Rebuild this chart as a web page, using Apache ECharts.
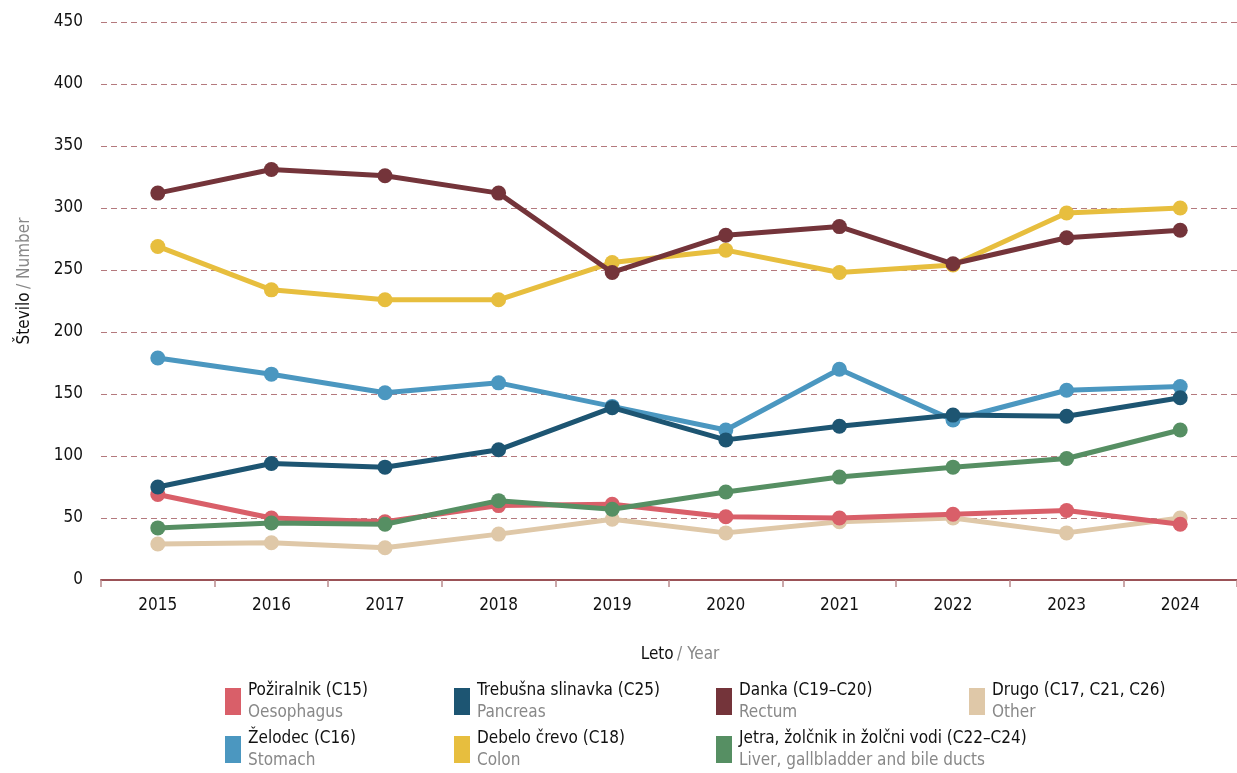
<!DOCTYPE html>
<html>
<head>
<meta charset="utf-8">
<script src="https://cdn.jsdelivr.net/npm/echarts@6/dist/echarts.min.js"></script>
<style>
  html, body { margin: 0; padding: 0; background: #fff; }
  #main { width: 1237px; height: 773px; }
</style>
</head>
<body>
<div id="main"></div>
<script>
const years = ["2015", "2016", "2017", "2018", "2019", "2020", "2021", "2022", "2023", "2024"];
const yTicks = [0, 50, 100, 150, 200, 250, 300, 350, 400, 450];

const oesophagus = [69, 50, 47, 60, 61, 51, 50, 53, 56, 45];
const pancreas = [75, 94, 91, 105, 139, 113, 124, 133, 132, 147];
const rectum = [312, 331, 326, 312, 248, 278, 285, 255, 276, 282];
const other = [29, 30, 26, 37, 49, 38, 47, 50, 38, 50];
const stomach = [179, 166, 151, 159, 140, 121, 170, 129, 153, 156];
const colon = [269, 234, 226, 226, 256, 266, 248, 254, 296, 300];
const liver = [42, 46, 45, 64, 57, 71, 83, 91, 98, 121];

const FONT = "'Liberation Sans Narrow', 'DejaVu Sans Condensed', sans-serif";
const FS = 17;

// legend items: [name sl, name en, color, data, legend left, legend row]
const items = [
  ["Požiralnik (C15)", "Oesophagus", "#d95f69", oesophagus, 225, 0],
  ["Trebušna slinavka (C25)", "Pancreas", "#1d5572", pancreas, 454, 0],
  ["Danka (C19–C20)", "Rectum", "#74343a", rectum, 716, 0],
  ["Drugo (C17, C21, C26)", "Other", "#dfc8a8", other, 969, 0],
  ["Želodec (C16)", "Stomach", "#4b97c0", stomach, 225, 1],
  ["Debelo črevo (C18)", "Colon", "#e7be3e", colon, 454, 1],
  ["Jetra, žolčnik in žolčni vodi (C22–C24)", "Liver, gallbladder and bile ducts", "#568f63", liver, 716, 1]
];
const english = {};
items.forEach(it => { english[it[0]] = it[1]; });

// drawing order (bottom to top)
const zOrder = ["Drugo (C17, C21, C26)", "Želodec (C16)", "Debelo črevo (C18)", "Požiralnik (C15)",
  "Jetra, žolčnik in žolčni vodi (C22–C24)", "Trebušna slinavka (C25)", "Danka (C19–C20)"];

const chart = echarts.init(document.getElementById("main"));

const nameRich = {
  a: { fontFamily: FONT, fontSize: FS, color: "#111" },
  b: { fontFamily: FONT, fontSize: FS, color: "#888" }
};

const option = {
  animation: false,
  textStyle: { fontFamily: FONT },
  grid: { left: 101, right: -11, top: 22, bottom: 193 },
  xAxis: {
    type: "category",
    data: years,
    boundaryGap: true,
    name: "{a|Leto} {b|/ Year}",
    nameLocation: "middle",
    nameGap: 66,
    nameTextStyle: { padding: [0, 0, 0, 22], rich: nameRich },
    axisLine: { lineStyle: { color: "#9b5257", width: 2 } },
    axisTick: { show: true, length: 7, lineStyle: { color: "#b98a8d", width: 1.5 } },
    axisLabel: { fontFamily: FONT, fontSize: FS, color: "#111", margin: 17 }
  },
  yAxis: {
    type: "value",
    min: 0,
    max: 450,
    interval: 50,
    name: "{a|Število} {b|/ Number}",
    nameLocation: "middle",
    nameGap: 68,
    nameRotate: 90,
    nameTextStyle: { padding: [0, 0, 0, 40], rich: nameRich },
    axisLine: { show: false },
    axisTick: { show: false },
    axisLabel: { fontFamily: FONT, fontSize: FS, color: "#111", margin: 18,
      formatter: v => yTicks.includes(v) ? String(v) : "" },
    splitLine: { lineStyle: { color: "#b4797d", type: [6, 4], width: 1 } }
  },
  legend: items.map(it => ({
    data: [it[0]],
    left: it[4],
    top: it[5] === 0 ? 682 : 730,
    padding: 0,
    icon: "rect",
    itemWidth: 16,
    itemHeight: 27,
    itemGap: 0,
    selectedMode: false,
    formatter: name => "{a|" + name + "}\n{b|" + english[name] + "}",
    textStyle: {
      padding: [0, 0, 0, 2],
      rich: {
        a: { fontFamily: FONT, fontSize: FS, lineHeight: 22, color: "#111" },
        b: { fontFamily: FONT, fontSize: FS, lineHeight: 22, color: "#888" }
      }
    }
  })),
  series: zOrder.map((name, i) => {
    const it = items.find(d => d[0] === name);
    return {
      name: name,
      type: "line",
      data: it[3],
      z: 2 + i,
      symbol: "circle",
      symbolSize: 15,
      itemStyle: { color: it[2] },
      lineStyle: { color: it[2], width: 5, join: "round" },
      emphasis: { disabled: true }
    };
  })
};

chart.setOption(option);
</script>
</body>
</html>
